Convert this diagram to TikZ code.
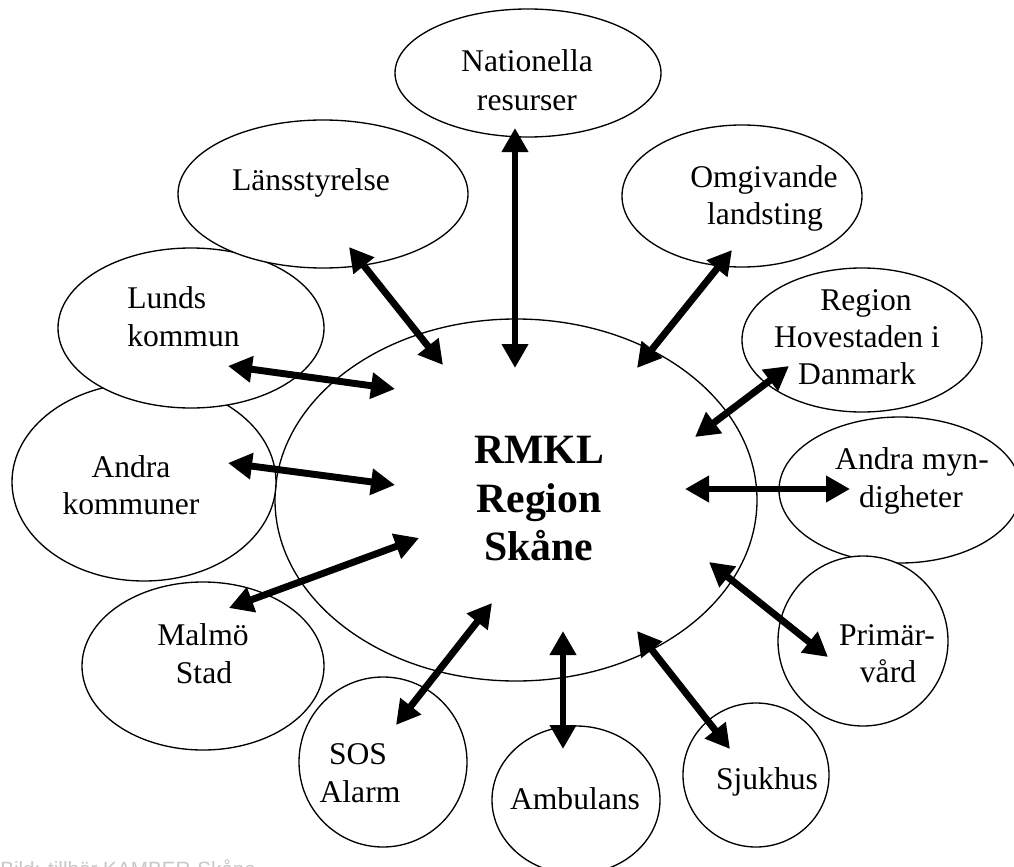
\documentclass[tikz,border=0pt]{standalone}
\usepackage{fontspec}
\setmainfont{Liberation Serif}
\newfontfamily\capfont{Liberation Sans}
\usetikzlibrary{shapes.geometric,arrows.meta}
\begin{document}
\begin{tikzpicture}[x=0.75pt,y=-0.75pt,
  bub/.style={draw, ellipse, line width=1pt, fill=white, inner sep=0pt, outer sep=0pt},
  ell/.style 2 args={bub, minimum width=#1*1.5pt, minimum height=#2*1.5pt},
  lbl/.style={anchor=base, inner sep=0pt, font=\fontsize{23.7}{28}\selectfont},
  big/.style={anchor=base, inner sep=0pt, font=\fontsize{31.3}{36}\selectfont\bfseries},
  biarrow/.style={line width=5.2pt, {Triangle[length=18pt,width=19pt]}-{Triangle[length=18pt,width=19pt]}}]
\useasboundingbox (0,0) rectangle (1014,867);
\clip (0,0) rectangle (1014,867);
% ellipses
\node[ell={241}{181}, fill=none] (cen) at (516,500) {};
\node[ell={132}{99}] (ank) at (144,482) {};
\node[ell={133}{80}] (lun) at (191,328) {};
\node[ell={145}{74}] (lan) at (323,194) {};
\node[ell={133}{64}] (nat) at (528,73) {};
\node[ell={120}{71}] (omg) at (742,196) {};
\node[ell={120}{72}] (reg) at (862,340) {};
\node[ell={121}{73}] (anm) at (900,490) {};
\node[ell={85}{85}] (pri) at (863,641) {};
\node[ell={73}{72}] (sju) at (756,775) {};
\node[ell={84}{74}] (amb) at (576,800) {};
\node[ell={84}{85}] (sos) at (383,762) {};
\node[ell={121}{84}] (mal) at (203,666) {};
% arrow end points
\coordinate (natA) at (515,128);  \coordinate (natB) at (515,368);
\coordinate (lanA) at (349,247);  \coordinate (lanB) at (443,365);
\coordinate (omgA) at (732,250);  \coordinate (omgB) at (637,368);
\coordinate (lunA) at (228,366);  \coordinate (lunB) at (395,389);
\coordinate (ankA) at (228,463);  \coordinate (ankB) at (395,485);
\coordinate (malA) at (229,608);  \coordinate (malB) at (419,538);
\coordinate (sosA) at (396,725);  \coordinate (sosB) at (492,603);
\coordinate (ambA) at (563,749);  \coordinate (ambB) at (563,631);
\coordinate (sjuA) at (730,749);  \coordinate (sjuB) at (637,631);
\coordinate (priA) at (828,657);  \coordinate (priB) at (709,562);
\coordinate (anmA) at (850,489);  \coordinate (anmB) at (685,489);
\coordinate (regA) at (789,366);  \coordinate (regB) at (695,437);
\draw[biarrow] (natA) -- (natB);
\draw[biarrow] (lanA) -- (lanB);
\draw[biarrow] (omgA) -- (omgB);
\draw[biarrow] (lunA) -- (lunB);
\draw[biarrow] (ankA) -- (ankB);
\draw[biarrow] (malA) -- (malB);
\draw[biarrow] (sosA) -- (sosB);
\draw[biarrow] (ambA) -- (ambB);
\draw[biarrow] (sjuA) -- (sjuB);
\draw[biarrow] (priA) -- (priB);
\draw[biarrow] (anmA) -- (anmB);
\draw[biarrow] (regA) -- (regB);
% texts
\node[big] (t1) at (539,463) {RMKL};
\node[big] (t2) at (539,512) {Region};
\node[big] (t3) at (539,560) {Skåne};
\node[lbl] (nat1) at (527,72) {Nationella};
\node[lbl] (nat2) at (527,110) {resurser};
\node[lbl] (lan1) at (311,190) {Länsstyrelse};
\node[lbl] (omg1) at (764,187) {Omgivande};
\node[lbl] (omg2) at (765,224) {landsting};
\node[lbl, anchor=base west] (lun1) at (127,308) {Lunds};
\node[lbl, anchor=base west] (lun2) at (127,346) {kommun};
\node[lbl] (reg1) at (866,310) {Region};
\node[lbl] (reg2) at (857,347) {Hovestaden i};
\node[lbl] (reg3) at (857,384) {Danmark};
\node[lbl] (ank1) at (131,477) {Andra};
\node[lbl] (ank2) at (131,514) {kommuner};
\node[lbl] (anm1) at (912,469) {Andra myn-};
\node[lbl] (anm2) at (911,507) {digheter};
\node[lbl] (mal1) at (203,645) {Malmö};
\node[lbl] (mal2) at (204,683) {Stad};
\node[lbl] (pri1) at (887,645) {Primär-};
\node[lbl] (pri2) at (888,682) {vård};
\node[lbl] (sos1) at (358,764) {SOS};
\node[lbl] (sos2) at (360,802) {Alarm};
\node[lbl] (amb1) at (575,809) {Ambulans};
\node[lbl] (sju1) at (767,789) {Sjukhus};
\node[anchor=base west, inner sep=0pt, text=black!22, font=\capfont\fontsize{15.5}{18}\selectfont] (cap) at (0,876) {Bild: tillhör KAMBER-Skåne};
\end{tikzpicture}
\end{document}
